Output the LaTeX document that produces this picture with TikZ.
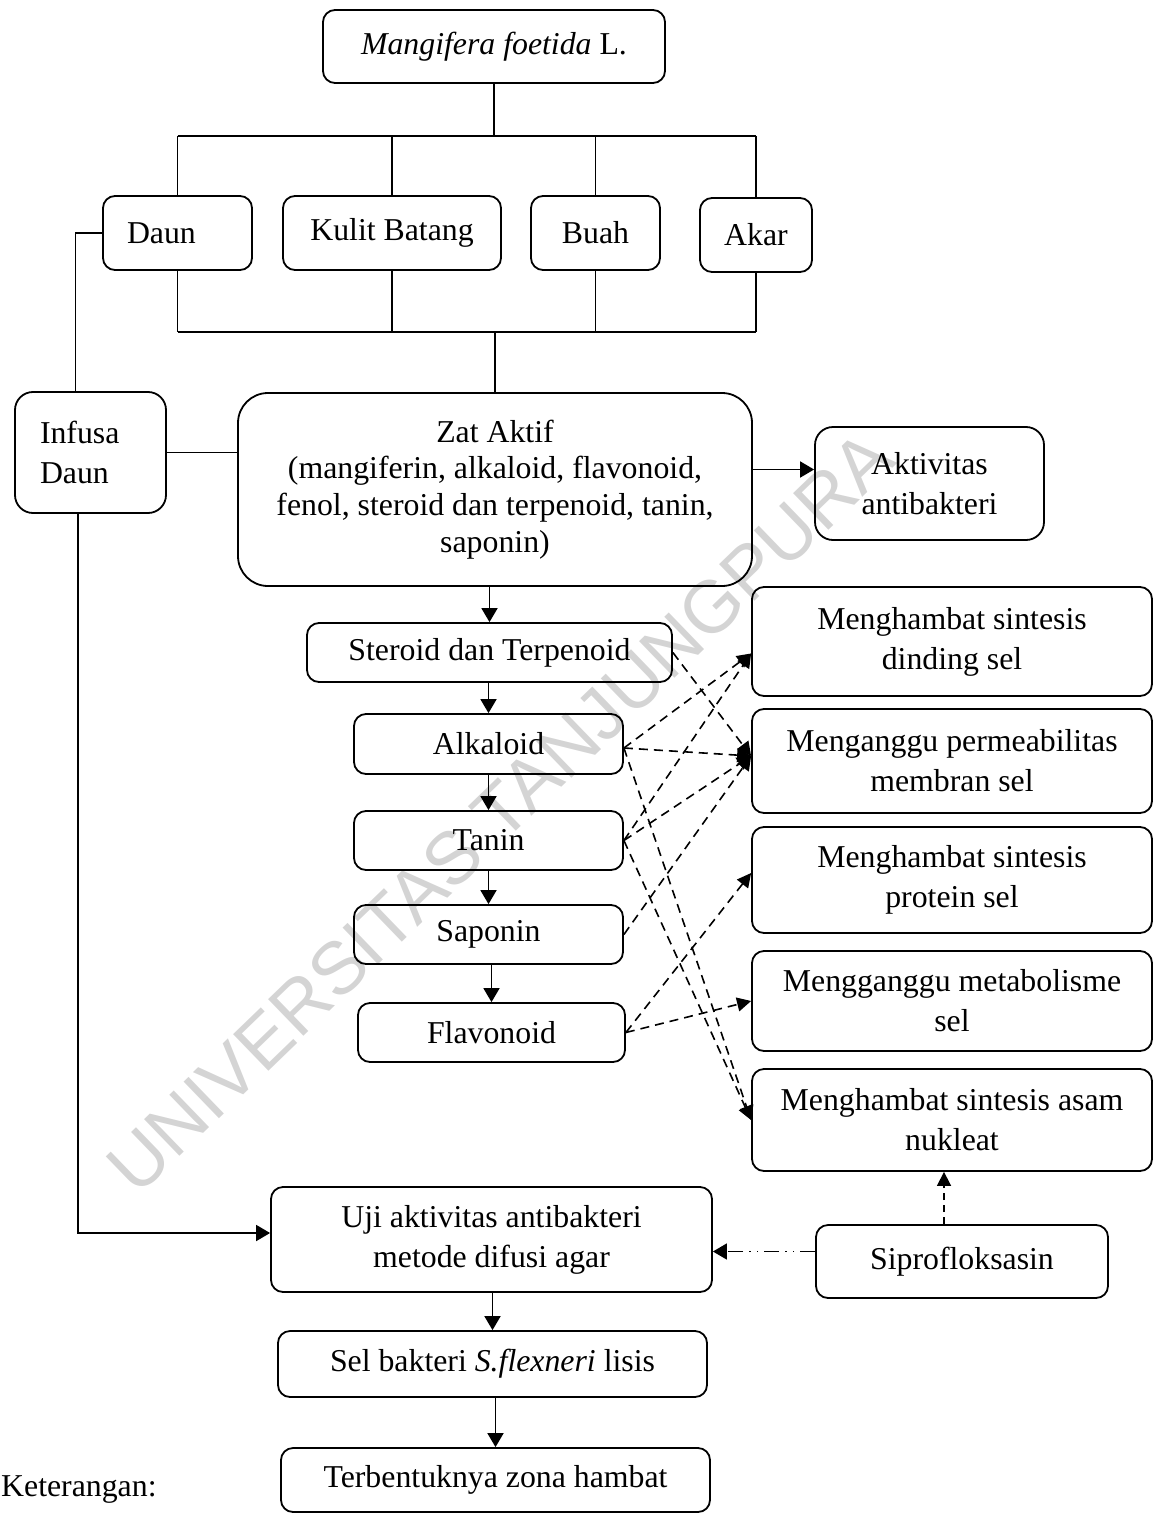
\documentclass[tikz,border=0pt]{standalone}
\usepackage{fontspec}
\setmainfont{Liberation Serif}
\newfontfamily\wmfont{Liberation Sans}
\usetikzlibrary{arrows.meta}

\tikzset{
    kotak/.style={draw, line width=1.8pt, rounded corners=12pt, align=center, inner sep=2pt},
    garis/.style={line width=1.8pt},
    panah/.style={garis, -{Triangle[length=14pt, width=16pt]}},
    putus/.style={line width=1.6pt, dash pattern=on 9pt off 6pt, -{Triangle[length=14pt, width=14pt]}},
    titik/.style={line width=1.6pt, dash pattern=on 15pt off 6pt on 1.5pt off 6pt on 1.5pt off 6pt, -{Triangle[length=14pt, width=16pt]}},
    capair/.style={font=\wmfont\fontsize{74}{80}\selectfont, rotate=44, inner sep=0pt, text=black!17},
}

\begin{document}
\begin{tikzpicture}[x=1pt, y=-1pt, font=\fontsize{31.8}{40}\selectfont]
    \useasboundingbox (0,0) rectangle (1154,1517);

    % Cap air (watermark)
    \node[capair] (wm) at (500,812) {UNIVERSITAS TANJUNGPURA};

    % Tanaman dan bagian tanaman
    \node[kotak, minimum width=342pt, minimum height=73pt] (mf) at (494,46.5) {\textit{Mangifera foetida} L.};
    \node[kotak, minimum width=149pt, minimum height=74pt, text width=101pt, align=left] (daun) at (177.5,233) {Daun};
    \node[kotak, minimum width=218pt, minimum height=74pt] (kulit) at (392,233) {Kulit Batang};
    \node[kotak, minimum width=129pt, minimum height=74pt] (buah) at (595.5,233) {Buah};
    \node[kotak, minimum width=112pt, minimum height=74pt] (akar) at (756,235) {Akar};

    \coordinate (busatas) at (0,136);
    \coordinate (busbawah) at (0,332);
    \draw[garis] (mf.south) -- (mf.south |- busatas);
    \draw[garis] (daun.north |- busatas) -- (akar.north |- busatas);
    \draw[garis] (daun.south |- busbawah) -- (akar.south |- busbawah);
    \foreach \n in {daun,kulit,buah,akar}
        \draw[garis] (\n.north |- busatas) -- (\n.north)
                     (\n.south) -- (\n.south |- busbawah);

    % Zat aktif
    \node[kotak, rounded corners=18pt, minimum width=151pt, minimum height=121pt, text width=101pt, align=left] (infusa) at (90.5,452.5) {Infusa\\Daun};
    \node[kotak, rounded corners=30pt, minimum width=514pt, minimum height=193pt, font=\fontsize{31.8}{36.7}\selectfont] (zat) at (495,489.5)
        {Zat Aktif\\(mangiferin, alkaloid, flavonoid,\\fenol, steroid dan terpenoid, tanin,\\saponin)};
    \node[kotak, rounded corners=18pt, minimum width=229pt, minimum height=113pt] (aktiv) at (929.5,483.5) {Aktivitas\\antibakteri};

    \draw[garis] (zat.north |- busbawah) -- (zat.north);
    \coordinate (infusaAtas) at ([xshift=-15pt]infusa.north);
    \draw[garis] (daun.west) -| (infusaAtas);
    \draw[garis] (infusa.east) -- (infusa.east -| zat.west);
    \coordinate (aktivKiri) at ([yshift=14pt]aktiv.west);
    \draw[panah] (aktivKiri -| zat.east) -- (aktivKiri);

    % Senyawa
    \node[kotak, minimum width=365pt, minimum height=59pt] (steroid) at (489.5,652.5) {Steroid dan Terpenoid};
    \node[kotak, minimum width=269pt, minimum height=60pt] (alkaloid) at (488.5,744) {Alkaloid};
    \node[kotak, minimum width=269pt, minimum height=59pt] (tanin) at (488.5,840.5) {Tanin};
    \node[kotak, minimum width=269pt, minimum height=59pt] (saponin) at (488.5,934.5) {Saponin};
    \node[kotak, minimum width=267pt, minimum height=59pt] (flavonoid) at (491.5,1032.5) {Flavonoid};

    % Mekanisme
    \node[kotak, minimum width=400pt, minimum height=109pt] (dinding) at (952,641.5) {Menghambat sintesis\\dinding sel};
    \node[kotak, minimum width=400pt, minimum height=104pt] (permea) at (952,761) {Menganggu permeabilitas\\membran sel};
    \node[kotak, minimum width=400pt, minimum height=106pt] (protein) at (952,880) {Menghambat sintesis\\protein sel};
    \node[kotak, minimum width=400pt, minimum height=100pt] (metab) at (952,1001) {Mengganggu metabolisme\\sel};
    \node[kotak, minimum width=400pt, minimum height=102pt] (nukleat) at (952,1120) {Menghambat sintesis asam\\nukleat};

    \draw[putus] (steroid.east) -- ([yshift=5pt]permea.west);
    \draw[putus] ([yshift=-4pt]alkaloid.east) -- ([yshift=-12pt]dinding.west);
    \draw[putus] ([yshift=-4pt]alkaloid.east) -- ([yshift=5pt]permea.west);
    \draw[putus] ([yshift=-4pt]alkaloid.east) -- (nukleat.west);
    \draw[putus] (tanin.east) -- ([yshift=-12pt]dinding.west);
    \draw[putus] (tanin.east) -- ([yshift=5pt]permea.west);
    \draw[putus] (tanin.east) -- (nukleat.west);
    \draw[putus] (saponin.east) -- ([yshift=5pt]permea.west);
    \draw[putus] (flavonoid.east) -- ([yshift=7pt]protein.west);
    \draw[putus] (flavonoid.east) -- (metab.west);

    % Uji
    \node[kotak, minimum width=441pt, minimum height=105pt] (uji) at (491.5,1239.5) {Uji aktivitas antibakteri\\metode difusi agar};
    \node[kotak, minimum width=292pt, minimum height=73pt] (sipro) at (962,1261.5) {Siprofloksasin};
    \node[kotak, minimum width=429pt, minimum height=66pt] (lisis) at (492.5,1364) {Sel bakteri \textit{S.flexneri} lisis};
    \node[kotak, minimum width=429pt, minimum height=64pt] (zona) at (495.5,1480) {Terbentuknya zona hambat};

    \foreach \a/\b in {zat/steroid, steroid/alkaloid, alkaloid/tanin, tanin/saponin, saponin/flavonoid, uji/lisis, lisis/zona}
        \draw[panah] (\b.north |- \a.south) -- (\b.north);

    \coordinate (infusaBawah) at ([xshift=-12.5pt]infusa.south);
    \coordinate (ujiKiri) at ([yshift=6.5pt]uji.west);
    \draw[panah] (infusaBawah) |- (ujiKiri);
    \coordinate (siproKiri) at ([yshift=10pt]sipro.west);
    \draw[titik] (siproKiri) -- (siproKiri -| uji.east);
    \coordinate (siproAtas) at ([xshift=-18pt]sipro.north);
    \draw[putus, dash pattern=on 7pt off 5pt] (siproAtas) -- (siproAtas |- nukleat.south);

    % Keterangan
    \node[anchor=base west, inner sep=0pt] (ket) at (1,1496) {Keterangan:};
\end{tikzpicture}
\end{document}
